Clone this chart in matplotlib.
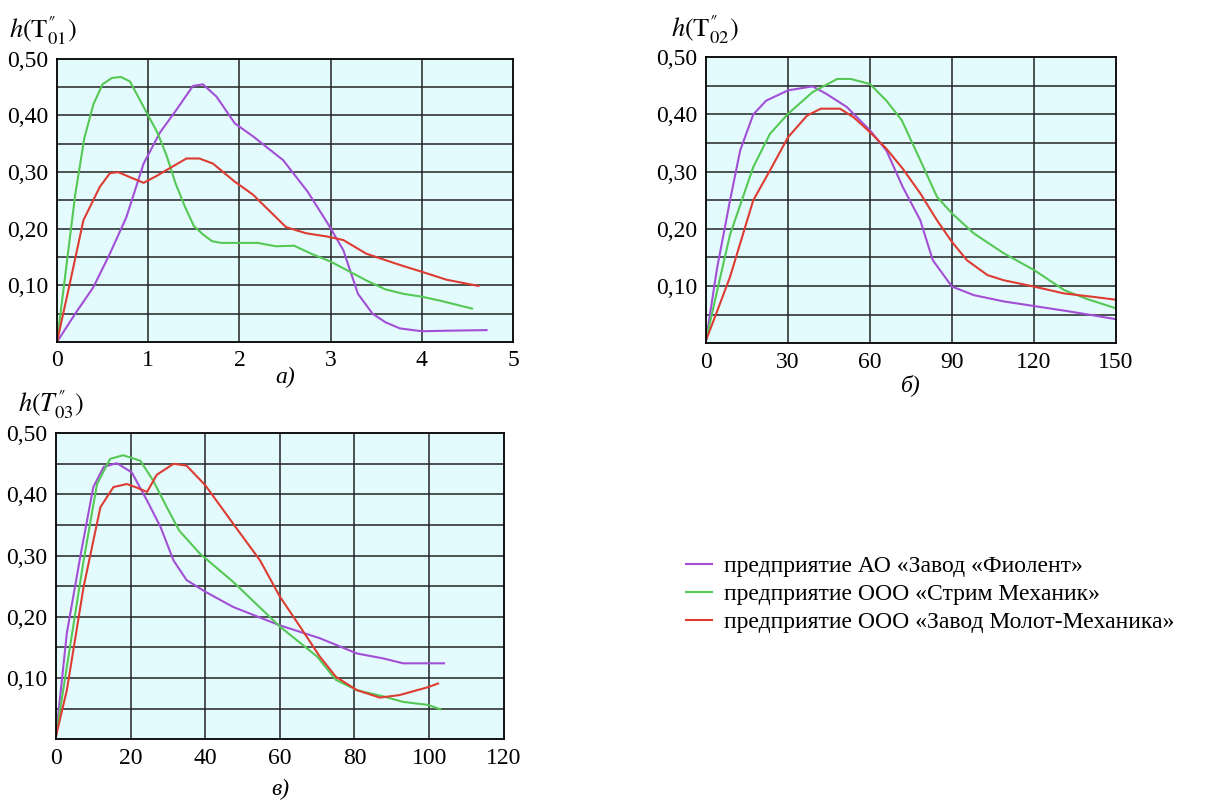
import matplotlib.pyplot as plt

plt.rcParams['font.family'] = ['Liberation Serif', 'DejaVu Serif']
plt.rcParams['mathtext.fontset'] = 'stix'

# цвета линий
c_fiolent = '#a24fd6'
c_strim = '#55c855'
c_molot = '#dc3c32'

names = ['предприятие АО «Завод «Фиолент»',
         'предприятие ООО «Стрим Механик»',
         'предприятие ООО «Завод Молот-Механика»']

# --- график а) ---
xa_f = [0, 0.2, 0.4, 0.58, 0.76, 0.95, 1.13, 1.31, 1.49, 1.6, 1.75, 1.95, 2.15, 2.48, 2.75, 2.97, 3.14, 3.3, 3.46, 3.6, 3.76, 4.0, 4.3, 4.71]
ya_f = [0, 0.05, 0.097, 0.156, 0.22, 0.315, 0.37, 0.41, 0.452, 0.455, 0.433, 0.386, 0.363, 0.321, 0.265, 0.209, 0.162, 0.085, 0.05, 0.035, 0.024, 0.019, 0.02, 0.021]
xa_s = [0, 0.1, 0.2, 0.3, 0.4, 0.5, 0.6, 0.7, 0.8, 0.9, 1.0, 1.1, 1.2, 1.3, 1.4, 1.5, 1.6, 1.7, 1.8, 2.0, 2.2, 2.4, 2.6, 2.8, 3.0, 3.2, 3.4, 3.6, 3.8, 4.0, 4.2, 4.4, 4.55]
ya_s = [0, 0.13, 0.26, 0.36, 0.42, 0.455, 0.466, 0.468, 0.46, 0.43, 0.40, 0.37, 0.33, 0.28, 0.24, 0.205, 0.19, 0.178, 0.175, 0.175, 0.175, 0.169, 0.17, 0.155, 0.142, 0.125, 0.108, 0.093, 0.085, 0.08, 0.073, 0.065, 0.059]
xa_m = [0, 0.15, 0.29, 0.47, 0.58, 0.67, 0.83, 0.95, 1.09, 1.27, 1.42, 1.56, 1.71, 1.95, 2.15, 2.51, 2.73, 2.97, 3.14, 3.39, 3.76, 4.0, 4.27, 4.62]
ya_m = [0, 0.11, 0.215, 0.274, 0.298, 0.30, 0.289, 0.281, 0.293, 0.31, 0.324, 0.324, 0.315, 0.283, 0.26, 0.203, 0.192, 0.186, 0.18, 0.156, 0.136, 0.124, 0.11, 0.099]

# --- график б) ---
xb_f = [0, 4, 8.8, 12.5, 17.3, 22, 30, 39, 44, 51.5, 60, 66, 72, 78.4, 83, 90, 98, 109, 120, 131, 140, 150]
yb_f = [0.005, 0.13, 0.25, 0.337, 0.40, 0.424, 0.442, 0.449, 0.436, 0.413, 0.372, 0.337, 0.273, 0.215, 0.145, 0.099, 0.084, 0.073, 0.065, 0.057, 0.05, 0.042]
xb_s = [0, 4, 8.8, 17.3, 23.4, 30, 39, 48, 53, 60, 66, 71.6, 78.4, 84.5, 90, 98, 109, 120, 131, 139, 150]
yb_s = [0.005, 0.09, 0.19, 0.308, 0.366, 0.401, 0.439, 0.462, 0.462, 0.453, 0.424, 0.39, 0.32, 0.256, 0.227, 0.192, 0.157, 0.128, 0.093, 0.078, 0.061]
xb_m = [0, 4, 8.8, 17.3, 23.4, 30, 37, 42, 49, 54, 60, 66, 72, 78.4, 84.5, 90, 95.5, 103, 109, 120, 131, 141.7, 150]
yb_m = [0.005, 0.055, 0.116, 0.25, 0.302, 0.36, 0.398, 0.41, 0.41, 0.395, 0.369, 0.34, 0.305, 0.262, 0.215, 0.177, 0.145, 0.119, 0.11, 0.099, 0.087, 0.081, 0.076]

# --- график в) ---
xc_f = [0, 2.9, 6.5, 10, 12.8, 16.3, 20.3, 24.4, 28, 31.5, 35, 40, 47.5, 60, 70.7, 80.7, 87.7, 93, 99.7, 104]
yc_f = [0.005, 0.173, 0.298, 0.412, 0.445, 0.451, 0.436, 0.39, 0.347, 0.292, 0.26, 0.241, 0.216, 0.186, 0.165, 0.14, 0.132, 0.124, 0.124, 0.124]
xc_s = [0, 2.9, 7.4, 11, 14.5, 18, 22.6, 26, 29.7, 33, 38.6, 47.5, 60, 70, 75, 80.7, 87.7, 93, 99.7, 103]
yc_s = [0.005, 0.118, 0.292, 0.417, 0.458, 0.464, 0.455, 0.423, 0.379, 0.341, 0.303, 0.257, 0.184, 0.135, 0.097, 0.08, 0.07, 0.061, 0.056, 0.049]
xc_m = [0, 2.9, 7.4, 11.9, 15.4, 19, 21.7, 24.4, 27, 31.5, 35, 40, 47.5, 54.7, 60, 65.4, 70.7, 75, 80.7, 86.8, 92, 99.7, 102.4]
yc_m = [0.005, 0.08, 0.249, 0.379, 0.412, 0.417, 0.411, 0.404, 0.432, 0.45, 0.447, 0.415, 0.352, 0.292, 0.233, 0.184, 0.135, 0.102, 0.08, 0.068, 0.072, 0.085, 0.091]

y_ticks = [0.1, 0.2, 0.3, 0.4, 0.5]
y_labels = ['0,10', '0,20', '0,30', '0,40', '0,50']
y_grid = [0.05, 0.1, 0.15, 0.2, 0.25, 0.3, 0.35, 0.4, 0.45]

fig = plt.figure(figsize=(12.2, 8), dpi=100)


def panel(rect, xticks, xs, ys, ylab, ylab_x, letter, letter_y):
    ax = fig.add_axes(rect)
    ax.set_facecolor('#e4fbfd')
    for x, y, c in zip(xs, ys, [c_fiolent, c_strim, c_molot]):
        ax.plot(x, y, color=c, lw=1.5)
    ax.set_xlim(xticks[0], xticks[-1])
    ax.set_ylim(0, 0.5)
    ax.set_xticks(xticks)
    ax.set_xticklabels([str(t) for t in xticks])
    ax.set_yticks(y_ticks)
    ax.set_yticklabels(y_labels)
    for g in y_grid:
        ax.axhline(g, color='#222222', lw=1.1, zorder=0.5)
    for t in xticks[1:-1]:
        ax.axvline(t, color='#222222', lw=1.1, zorder=0.5)
    ax.tick_params(length=0, labelsize=17, pad=6)
    for s in ax.spines.values():
        s.set_linewidth(1.3)
    ax.text(ylab_x, 1.04, ylab, transform=ax.transAxes, fontsize=19, ha='left', va='bottom')
    ax.text(0.5, letter_y, letter, transform=ax.transAxes, fontsize=17, style='italic', ha='center', va='center')
    return ax


ax1 = panel([0.0467, 0.5725, 0.3738, 0.354], [0, 1, 2, 3, 4, 5],
            [xa_f, xa_s, xa_m], [ya_f, ya_s, ya_m], r'$h(\mathrm{T}^{″}_{01})$', -0.105, 'а)', -0.125)
ax2 = panel([0.5787, 0.571, 0.336, 0.3575], [0, 30, 60, 90, 120, 150],
            [xb_f, xb_s, xb_m], [yb_f, yb_s, yb_m], r'$h(\mathrm{T}^{″}_{02})$', -0.085, 'б)', -0.145)
ax3 = panel([0.0459, 0.076, 0.367, 0.3825], [0, 20, 40, 60, 80, 100, 120],
            [xc_f, xc_s, xc_m], [yc_f, yc_s, yc_m], r'$h(T^{″}_{03})$', -0.085, 'в)', -0.165)

fig.legend(ax1.get_lines()[:3], names, loc='upper left', bbox_to_anchor=(0.545, 0.332),
           frameon=False, fontsize=17, handlelength=1.1, handletextpad=0.5, labelspacing=0.28)

plt.savefig('out.png')
